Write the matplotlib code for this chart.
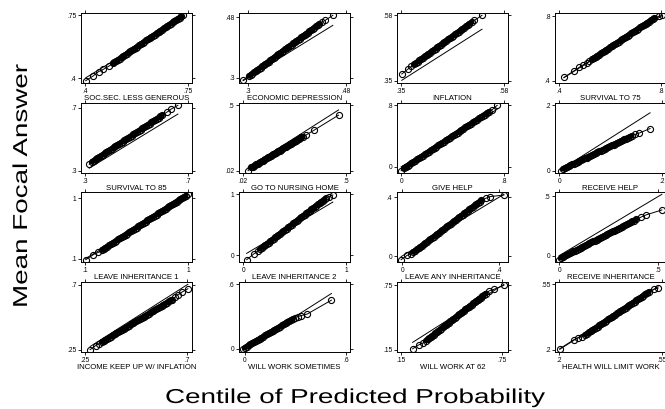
import numpy as np
import matplotlib
matplotlib.use("Agg")
import matplotlib.pyplot as plt
from matplotlib import patheffects
from matplotlib.transforms import Affine2D

plt.rcParams['font.family'] = ['Liberation Sans', 'DejaVu Sans']

# panel titles and axis ticks (same ticks on x and y)
titles = ["SOC.SEC. LESS GENEROUS", "ECONOMIC DEPRESSION", "INFLATION", "SURVIVAL TO 75",
          "SURVIVAL TO 85", "GO TO NURSING HOME", "GIVE HELP", "RECEIVE HELP",
          "LEAVE INHERITANCE 1", "LEAVE INHERITANCE 2", "LEAVE ANY INHERITANCE", "RECEIVE INHERITANCE",
          "INCOME KEEP UP W/ INFLATION", "WILL WORK SOMETIMES", "WILL WORK AT 62", "HEALTH WILL LIMIT WORK"]
tick_lo = [.4, .3, .35, .4, .3, .02, 0, 0, .1, 0, 0, 0, .25, 0, .15, .2]
tick_hi = [.75, .48, .58, .8, .7, .5, .8, .2, 1, 1, .4, .5, .7, .6, .75, .55]
lab_lo = [".4", ".3", ".35", ".4", ".3", ".02", "0", "0", ".1", "0", "0", "0", ".25", "0", ".15", ".2"]
lab_hi = [".75", ".48", ".58", ".8", ".7", ".5", ".8", ".2", "1", "1", ".4", ".5", ".7", ".6", ".75", ".55"]

# centile of predicted probability (x) vs mean focal answer (y)
soc_x = [.402, .428, .446, .462, .480,
         .494, .500, .506, .512, .518, .524, .530, .536, .542, .548, .554, .560, .566, .572, .578, .584, .590,
         .596, .602, .608, .614, .620, .626, .632, .638, .644, .650, .656, .662, .668, .674, .680, .686, .692,
         .698, .704, .710, .716, .722, .728, .733]
soc_y = [.386, .413, .437, .449, .466,
         .482, .489, .495, .502, .509, .516, .522, .529, .536, .543, .549, .556, .563, .569, .576, .583, .590,
         .596, .603, .610, .616, .623, .630, .637, .643, .650, .657, .663, .670, .677, .684, .690, .697, .704,
         .711, .717, .724, .731, .737, .744, .750]

dep_x = [.291, .302, .305, .308, .311, .314, .317, .320, .323, .326, .329, .332, .335, .338, .341, .344, .347,
         .350, .353, .356, .359, .362, .365, .368, .371, .374, .377, .380, .383, .386, .389, .392, .395, .398,
         .401, .404, .407, .410, .413, .416, .419, .422, .425, .428, .431, .436, .442, .456]
dep_y = [.293, .305, .3086, .3122, .3158, .3194, .323, .3266, .3302, .3338, .3374, .341, .3446, .3482, .3518,
         .3554, .359, .3626, .3662, .3698, .3734, .377, .3806, .3842, .3878, .3914, .395, .3986, .4022, .4058,
         .4094, .413, .4166, .4202, .4238, .4274, .431, .4346, .4382, .4418, .4454, .449, .4526, .4562, .4598,
         .466, .471, .486]

inf_x = [.3515, .3658, .373, .379, .383, .387, .391, .395, .399, .403, .407, .411, .415, .419, .423, .427, .431,
         .435, .439, .443, .447, .451, .455, .459, .463, .467, .471, .475, .479, .483, .487, .491, .495, .499,
         .503, .508, .514, .531]
inf_y = [.3736, .3915, .400, .4076, .4122, .4168, .4214, .426, .4306, .4352, .4398, .4444, .449, .4536, .4582,
         .4628, .4674, .472, .4766, .4812, .4858, .4904, .495, .4996, .5042, .5088, .5134, .518, .5226, .5272,
         .5318, .5364, .541, .5456, .5502, .556, .562, .580]

s75_x = [.419, .459, .478, .493, .509, .519,
         .529, .536, .543, .550, .557, .564, .571, .578, .585, .592, .599, .606, .613, .620, .627, .634, .641,
         .648, .655, .662, .669, .676, .683, .690, .697, .704, .711, .718, .725, .732, .739, .746, .753, .760,
         .767, .774, .790, .803]
s75_y = [.420, .4615, .482, .497, .511, .523,
         .533, .5403, .5476, .5549, .5623, .5696, .5769, .5842, .5915, .5988, .6062, .6135, .6208, .6281, .6354,
         .6427, .650, .6574, .6647, .672, .6793, .6866, .6939, .7013, .7086, .7159, .7232, .7305, .7378, .7451,
         .7525, .7598, .7671, .7744, .7817, .789, .799, .806]

s85_x = [.316, .327, .334, .341, .348, .355, .362, .369, .376, .383, .390, .397, .404, .411, .418, .425, .432,
         .439, .446, .453, .460, .467, .474, .481, .488, .495, .502, .509, .516, .523, .530, .537, .544, .551,
         .558, .565, .572, .579, .586, .593, .600, .619, .634, .661]
s85_y = [.341, .357, .3646, .3722, .3798, .3874, .395, .4026, .4102, .4178, .4254, .433, .4405, .4481, .4557,
         .4633, .4709, .4785, .4861, .4937, .5013, .5089, .5165, .5241, .5317, .5393, .5469, .5545, .5621,
         .5697, .5773, .5849, .5924, .600, .6076, .6152, .6228, .6304, .638, .6456, .6532, .674, .692, .717]

nur_x = [.043, .058, .064, .070, .076, .082, .088, .094, .100, .106, .112, .118, .124, .130, .136, .142, .148,
         .154, .160, .166, .172, .178, .184, .190, .196, .202, .208, .214, .220, .226, .232, .238, .244, .250,
         .256, .262, .268, .274, .280, .286, .292, .299, .314, .352, .466]
nur_y = [.020, .044, .0496, .0553, .0609, .0666, .0722, .0778, .0835, .0891, .0947, .1004, .106, .1116, .1173,
         .1229, .1286, .1342, .1398, .1455, .1511, .1567, .1624, .168, .1736, .1793, .1849, .1906, .1962, .2018,
         .2075, .2131, .2187, .2244, .230, .2356, .2413, .2469, .2526, .2582, .2638, .2705, .282, .318, .428]

give_x = [.000, .020, .035, .050, .065, .080, .095, .110, .125, .140, .155, .170, .185, .200, .215, .230, .245,
          .260, .275, .290, .305, .320, .335, .350, .365, .380, .395, .410, .425, .440, .455, .470, .485, .500,
          .515, .530, .545, .560, .575, .590, .605, .620, .635, .650, .665, .682, .709, .748]
give_y = [-.050, -.020, -.0034, .0133, .0299, .0465, .0632, .0798, .0964, .1131, .1297, .1464, .163, .1796,
          .1963, .2129, .2295, .2462, .2628, .2794, .2961, .3127, .3293, .346, .3626, .3792, .3959, .4125, .4291,
          .4458, .4624, .479, .4957, .5123, .529, .5456, .5622, .5789, .5955, .6121, .6288, .6454, .662, .6787,
          .6953, .7142, .744, .800]

rec_x = [.004, .008, .0115, .015, .0185, .022, .0255, .029, .0325, .036, .0395, .043, .0465, .050, .0535, .057,
         .0605, .064, .0675, .071, .0745, .078, .0815, .085, .0885, .092, .0955, .099, .1025, .106, .1095, .113,
         .1165, .120, .1235, .127, .1305, .134, .1375, .141, .148, .155, .177]
rec_y = [.000, .006, .0086, .0113, .0139, .0166, .0192, .0218, .0245, .0271, .0298, .0324, .035, .0377, .0403,
         .0429, .0456, .0482, .0509, .0535, .0561, .0588, .0614, .0641, .0667, .0693, .072, .0746, .0773, .0799,
         .0825, .0852, .0878, .0904, .0931, .0957, .0984, .101, .1036, .1063, .111, .1145, .129]

li1_x = [.105, .173, .217, .246, .262, .278, .294, .310, .326, .342, .358, .374, .390, .406, .422, .438, .454,
         .470, .486, .502, .518, .534, .550, .566, .582, .598, .614, .630, .646, .662, .678, .694, .710, .726,
         .742, .758, .774, .790, .806, .822, .838, .854, .870, .886, .902, .918, .934, .950, .966, .982, 1.000]
li1_y = [.086, .162, .196, .229, .2466, .2641, .2817, .2993, .3168, .3344, .352, .3695, .3871, .4047, .4223,
         .4398, .4574, .475, .4925, .5101, .5277, .5452, .5628, .5804, .598, .6155, .6331, .6507, .6682, .6858,
         .7034, .7209, .7385, .7561, .7737, .7912, .8088, .8264, .8439, .8615, .8791, .8966, .9142, .9318,
         .9494, .9669, .9845, 1.0021, 1.0196, 1.0372, 1.057]

li2_x = [.035, .105, .143, .168, .184, .200, .216, .232, .248, .264, .280, .296, .312, .328, .344, .360, .376,
         .392, .408, .424, .440, .456, .472, .488, .504, .520, .536, .552, .568, .584, .600, .616, .632, .648,
         .664, .680, .696, .712, .728, .744, .760, .776, .792, .810, .835, .873]
li2_y = [-.069, .027, .070, .107, .1278, .1486, .1694, .1902, .211, .2318, .2526, .2734, .2942, .315, .3358,
         .3566, .3774, .3982, .419, .4398, .4606, .4814, .5022, .523, .5438, .5646, .5854, .6062, .627, .6478,
         .6686, .6894, .7102, .731, .7518, .7726, .7934, .8142, .835, .8558, .8766, .8974, .9182, .941, .962, .989]

lany_x = [-.004, .020, .037, .047, .054, .061, .068, .075, .082, .089, .096, .103, .110, .117, .124, .131, .138,
          .145, .152, .159, .166, .173, .180, .187, .194, .201, .208, .215, .222, .229, .236, .243, .250, .257,
          .264, .271, .278, .285, .292, .299, .306, .313, .320, .327, .346, .362, .420]
lany_y = [-.025, .004, .015, .027, .0358, .0446, .0534, .0622, .071, .0798, .0886, .0974, .1062, .115, .1238,
          .1326, .1414, .1502, .159, .1678, .1766, .1854, .1942, .203, .2118, .2206, .2294, .2382, .247, .2558,
          .2646, .2734, .2822, .291, .2998, .3086, .3174, .3262, .335, .3438, .3526, .3614, .3702, .379, .393,
          .404, .415]

rinh_x = [.000, .009, .018, .027, .036, .045, .054, .063, .072, .081, .090, .099, .108, .117, .126, .135, .144,
          .153, .162, .171, .180, .189, .198, .207, .216, .225, .234, .243, .252, .261, .270, .279, .288, .297,
          .306, .315, .324, .333, .342, .351, .360, .369, .378, .389, .415, .440, .518]
rinh_y = [-.034, -.018, -.0103, -.0027, .005, .0127, .0204, .028, .0357, .0434, .051, .0587, .0664, .0741,
          .0817, .0894, .0971, .1047, .1124, .1201, .1278, .1354, .1431, .1508, .1584, .1661, .1738, .1815,
          .1891, .1968, .2045, .2121, .2198, .2275, .2352, .2428, .2505, .2582, .2658, .2735, .2812, .2889,
          .2965, .306, .327, .345, .386]

inc_x = [.272, .297, .312, .324, .332, .340, .348, .356, .364, .372, .380, .388, .396, .404, .412, .420, .428,
         .436, .444, .452, .460, .468, .476, .484, .492, .500, .508, .516, .524, .532, .540, .548, .556, .564,
         .572, .580, .588, .596, .604, .612, .620, .628, .634, .647, .660, .678, .704]
inc_y = [.250, .279, .292, .303, .3106, .3182, .3259, .3335, .3411, .3487, .3564, .364, .3716, .3792, .3869,
         .3945, .4021, .4097, .4174, .425, .4326, .4402, .4479, .4555, .4631, .4707, .4784, .486, .4936, .5012,
         .5089, .5165, .5241, .5317, .5394, .547, .5546, .5622, .5698, .5775, .5851, .5927, .5984, .614, .632,
         .650, .673]

wws_x = [-.010, .000, .011, .022, .033, .044, .055, .066, .077, .088, .099, .110, .121, .132, .143, .154, .165,
         .176, .187, .198, .209, .220, .231, .242, .253, .264, .275, .286, .300, .314, .333, .371, .514]
wws_y = [.000, .009, .0193, .0297, .040, .0504, .0607, .071, .0814, .0917, .1021, .1124, .1227, .1331, .1434,
         .1538, .1641, .1744, .1848, .1951, .2055, .2158, .2261, .2365, .2468, .2572, .2675, .2778, .290, .298,
         .307, .323, .452]

w62_x = [.2185, .258, .278, .298, .307, .316, .325, .334, .343, .352, .361, .370, .379, .388, .397, .406, .415,
         .424, .433, .442, .451, .460, .469, .478, .487, .496, .505, .514, .523, .532, .541, .550, .559, .568,
         .577, .586, .595, .604, .613, .622, .631, .640, .652, .672, .701, .760]
w62_y = [.159, .198, .211, .235, .2462, .2573, .2685, .2796, .2908, .302, .3131, .3243, .3354, .3466, .3578,
         .3689, .3801, .3912, .4024, .4136, .4247, .4359, .447, .4582, .4694, .4805, .4917, .5028, .514, .5252,
         .5363, .5475, .5586, .5698, .581, .5921, .6033, .6144, .6256, .6368, .6479, .6591, .674, .698, .713, .750]

hlt_x = [.202, .250, .263, .278, .289, .295, .301, .307, .313, .319, .325, .331, .337, .343, .349, .355, .361,
         .367, .373, .379, .385, .391, .397, .403, .409, .415, .421, .427, .433, .439, .445, .451, .457, .463,
         .469, .475, .481, .487, .493, .499, .506, .522, .537]
hlt_y = [.205, .253, .262, .2705, .2795, .2859, .2922, .2986, .3049, .3113, .3176, .324, .3303, .3367, .3431,
         .3494, .3558, .3621, .3685, .3748, .3812, .3875, .3939, .4002, .4066, .413, .4193, .4257, .432, .4384,
         .4447, .4511, .4574, .4638, .4701, .4765, .4829, .4892, .4956, .5019, .5093, .523, .530]

xs = [soc_x, dep_x, inf_x, s75_x, s85_x, nur_x, give_x, rec_x, li1_x, li2_x, lany_x, rinh_x, inc_x, wws_x, w62_x, hlt_x]
ys = [soc_y, dep_y, inf_y, s75_y, s85_y, nur_y, give_y, rec_y, li1_y, li2_y, lany_y, rinh_y, inc_y, wws_y, w62_y, hlt_y]
# how many centiles sit apart from the crowded middle at each end
n_low = [5, 1, 3, 6, 1, 1, 1, 1, 3, 3, 3, 1, 3, 1, 3, 4]
n_high = [1, 3, 2, 2, 3, 3, 2, 3, 1, 3, 3, 3, 4, 5, 3, 2]


class Stretch(patheffects.AbstractPathEffect):
    # widen glyphs along the text direction
    def __init__(self, sx):
        super().__init__()
        self._t = Affine2D().scale(sx, 1.0)

    def draw_path(self, renderer, gc, tpath, affine, rgbFace=None):
        renderer.draw_path(gc, tpath, self._t + affine, rgbFace)


W, H = 665, 409
fig = plt.figure(figsize=(W / 100, H / 100), dpi=100)

lefts = [81, 239, 397, 555]
tops = [13, 103, 192, 282]
pw, ph = 111, 70

for i in range(16):
    r, c = divmod(i, 4)
    ax = fig.add_axes([lefts[c] / W, 1 - (tops[r] + ph) / H, pw / W, ph / H])
    x = np.array(xs[i])
    y = np.array(ys[i])
    ax.plot([x.min(), x.max()], [x.min(), x.max()], color="black", lw=0.7)
    # overlapping circles in the crowded middle merge into a solid band
    a, b = n_low[i], len(x) - n_high[i]
    ax.plot(x[a:b], y[a:b], color="black", lw=4.0, solid_capstyle="round")
    ax.plot(x, y, color="black", lw=0.7, marker="o", ms=4.4, mfc="none", mec="black", mew=0.8)

    lo, hi = tick_lo[i], tick_hi[i]
    x0, x1 = min(lo, x.min()), max(hi, x.max())
    y0, y1 = min(lo, y.min(), x.min()), max(hi, y.max(), x.max())
    ax.set_xlim(x0 - 0.04 * (x1 - x0), x1 + 0.04 * (x1 - x0))
    ax.set_ylim(y0 - 0.035 * (y1 - y0), y1 + 0.035 * (y1 - y0))
    ax.set_xticks([lo, hi])
    ax.set_xticklabels([lab_lo[i], lab_hi[i]])
    ax.set_yticks([lo, hi])
    ax.set_yticklabels([lab_lo[i], lab_hi[i]])
    ax.tick_params(direction="out", length=2.5, width=0.6, labelsize=4.8, pad=0.8,
                   top=True, right=True, labeltop=False, labelright=False)
    for s in ax.spines.values():
        s.set_linewidth(0.7)
    ax.set_xlabel(titles[i], fontsize=5.6, labelpad=0.3)

fig.text(165 / W, 1 - 403 / H, "Centile of Predicted Probability", fontsize=14.5,
         ha="left", va="baseline", path_effects=[Stretch(1.38)])
fig.text(27 / W, 1 - 308 / H, "Mean Focal Answer", fontsize=14.5, rotation=90,
         rotation_mode="anchor", ha="left", va="baseline", path_effects=[Stretch(1.38)])

fig.savefig("out.png", dpi=100)
